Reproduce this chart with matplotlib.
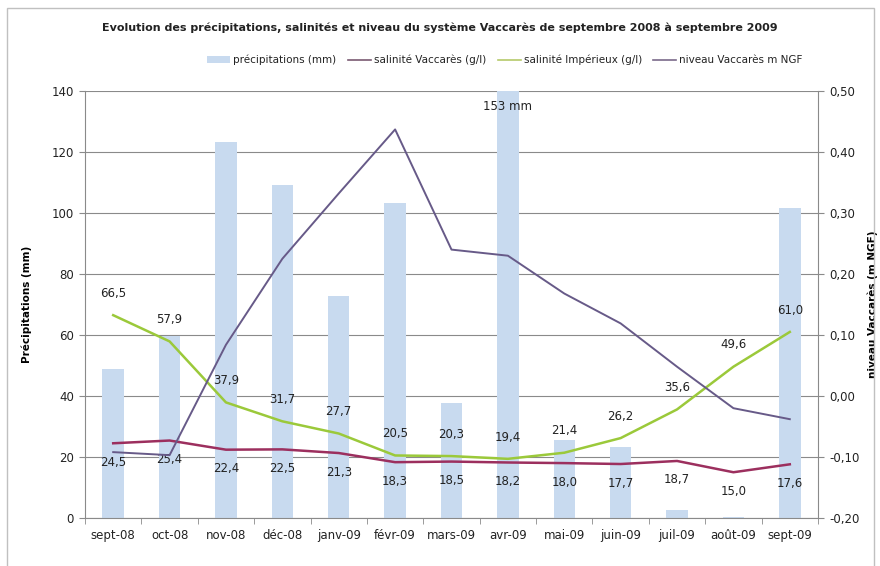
import matplotlib

matplotlib.use("Agg")

import matplotlib.pyplot as plt
from matplotlib.lines import Line2D
from matplotlib.patches import Patch, Rectangle

months = ["sept-08", "oct-08", "nov-08", "déc-08", "janv-09", "févr-09", "mars-09",
          "avr-09", "mai-09", "juin-09", "juil-09", "août-09", "sept-09"]
precip_mm = [48.8, 59.6, 123.4, 109.2, 72.8, 103.2, 37.8, 153.0, 25.6, 23.4, 2.6, 0.4, 101.5]
sal_vaccares = [24.5, 25.4, 22.4, 22.5, 21.3, 18.3, 18.5, 18.2, 18.0, 17.7, 18.7, 15.0, 17.6]
sal_imperieux = [66.5, 57.9, 37.9, 31.7, 27.7, 20.5, 20.3, 19.4, 21.4, 26.2, 35.6, 49.6, 61.0]
niveau_ngf = [-0.092, -0.097, 0.084, 0.225, 0.332, 0.437, 0.240, 0.230, 0.168, 0.119,
              0.048, -0.020, -0.038]
left_ticks = [0, 20, 40, 60, 80, 100, 120, 140]
right_ticks = [-0.20, -0.10, 0.00, 0.10, 0.20, 0.30, 0.40, 0.50]

BAR_C = "#c8daef"
VAC_C = "#9c2f5e"
IMP_C = "#9bc93a"
NIV_C = "#675a88"
GRID_C = "#8a8a8a"
TXT = "#222222"


def fr(v, nd=1):
    return f"{v:.{nd}f}".replace(".", ",")


fig = plt.figure(figsize=(8.8, 5.66), dpi=100)
fig.patches.append(Rectangle((7 / 880, -0.01), 867 / 880, 1 - 8 / 566 + 0.01,
                             transform=fig.transFigure, fill=False,
                             edgecolor="#c0c0c0", linewidth=1.0))

ax = fig.add_axes([85 / 880, 1 - 518 / 566, 733 / 880, 427 / 566])
x = list(range(len(months)))

ax.bar(x, precip_mm, width=0.38, color=BAR_C, zorder=1)
ax.plot(x, sal_imperieux, color=IMP_C, linewidth=1.8, zorder=3)
ax.plot(x, sal_vaccares, color=VAC_C, linewidth=1.8, zorder=3)

for xi, v in zip(x, sal_imperieux):
    ax.annotate(fr(v), (xi, v), xytext=(0, 11), textcoords="offset points",
                ha="center", va="bottom", fontsize=8.5, color=TXT, zorder=5)
for xi, v in zip(x, sal_vaccares):
    ax.annotate(fr(v), (xi, v), xytext=(0, -9), textcoords="offset points",
                ha="center", va="top", fontsize=8.5, color=TXT, zorder=5)

# rainfall above the axis limit gets its value written inside the bar
for xi, v in zip(x, precip_mm):
    if v > left_ticks[-1]:
        ax.text(xi, left_ticks[-1] - 3, f"{v:.0f} mm", ha="center", va="top",
                fontsize=8.5, color=TXT, zorder=5)

ax.set_ylim(0, 140)
ax.set_xlim(-0.5, len(months) - 0.5)
ax.set_yticks(left_ticks)
ax.set_yticklabels([str(t) for t in left_ticks])
ax.yaxis.grid(True, color=GRID_C, linewidth=0.8, zorder=0)
ax.set_axisbelow(True)
ax.set_xticks(x)
ax.set_xticklabels(months)
ax.set_xticks([i - 0.5 for i in range(len(months) + 1)], minor=True)
ax.tick_params(axis="x", which="major", length=0, pad=8, labelsize=8.5, colors=TXT)
ax.tick_params(axis="x", which="minor", length=4, color=GRID_C)
ax.tick_params(axis="y", length=4, color=GRID_C, labelsize=8.5, labelcolor=TXT, pad=4)
for side in ("left", "bottom"):
    ax.spines[side].set_color(GRID_C)
ax.spines["top"].set_visible(False)
ax.spines["right"].set_visible(False)
ax.set_ylabel("Précipitations (mm)", fontsize=7.5, fontweight="bold", labelpad=14)

ax2 = ax.twinx()
ax2.plot(x, niveau_ngf, color=NIV_C, linewidth=1.4, zorder=4)
ax2.set_ylim(-0.20, 0.50)
ax2.set_yticks(right_ticks)
ax2.set_yticklabels([fr(t, 2) for t in right_ticks])
ax2.tick_params(axis="y", length=4, color=GRID_C, labelsize=8.5, labelcolor=TXT, pad=4)
ax2.spines["right"].set_color(GRID_C)
for side in ("top", "left", "bottom"):
    ax2.spines[side].set_visible(False)
ax2.set_ylabel("niveau Vaccarès (m NGF)", fontsize=7.5, fontweight="bold", labelpad=6)

fig.text(0.5, 1 - 28 / 566, "Evolution des précipitations, salinités et niveau du système "
         "Vaccarès de septembre 2008 à septembre 2009",
         ha="center", va="center", fontsize=8, fontweight="bold", color=TXT)

handles = [
    Patch(facecolor=BAR_C, edgecolor="none"),
    Line2D([], [], color="#7a5a72", linewidth=1.2),
    Line2D([], [], color="#b5c96a", linewidth=1.2),
    Line2D([], [], color="#7a6a8a", linewidth=1.2),
]
labels = ["précipitations (mm)", "salinité Vaccarès (g/l)", "salinité Impérieux (g/l)",
          "niveau Vaccarès m NGF"]
fig.legend(handles, labels, loc="center", bbox_to_anchor=(505 / 880, 1 - 60 / 566), ncol=4,
           frameon=False, fontsize=7.5, handlelength=2.2, handletextpad=0.3,
           columnspacing=1.1, labelcolor=TXT)

fig.savefig("out.png", dpi=100, facecolor="white")
plt.close(fig)
